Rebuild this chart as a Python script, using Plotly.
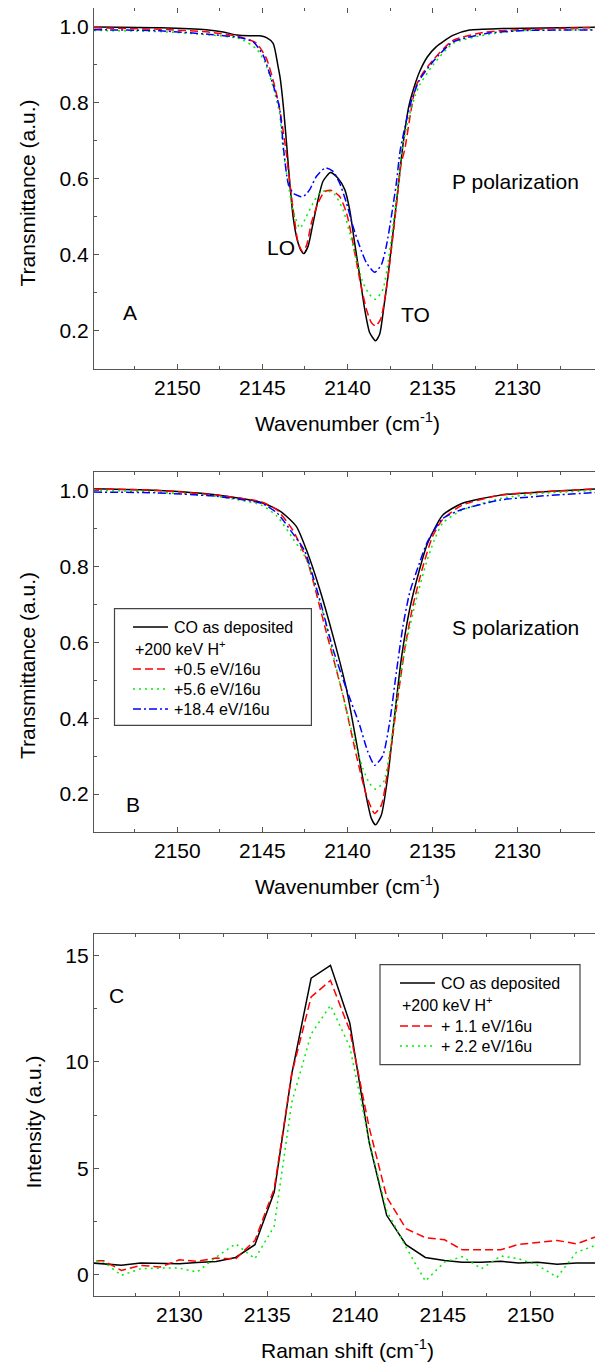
import plotly.graph_objects as go

# ---------------- Panel A (P polarization) ----------------
a_black_x = [2154.9, 2151.0, 2148.3, 2147.3, 2146.5, 2145.8, 2145.15, 2144.76, 2144.37, 2144.08, 2143.95, 2143.75,
             2143.55, 2143.39, 2143.2, 2142.96, 2142.72, 2142.57, 2142.32, 2142.02, 2141.73, 2141.44, 2141.0,
             2140.56, 2140.16, 2139.87, 2139.58, 2139.28, 2138.99, 2138.7, 2138.35, 2138.11, 2137.88, 2137.62,
             2137.33, 2137.04, 2136.78, 2136.4, 2136.05, 2135.77, 2135.3, 2134.79, 2133.81, 2132.83, 2130.88, 2125.1]
a_black_y = [0.998, 0.996, 0.991, 0.985, 0.977, 0.975, 0.975, 0.970, 0.955, 0.894, 0.862, 0.78,
             0.675, 0.588, 0.501, 0.44, 0.41, 0.403, 0.422, 0.484, 0.545, 0.593, 0.616,
             0.601, 0.571, 0.518, 0.431, 0.344, 0.257, 0.196, 0.174, 0.191, 0.257, 0.344,
             0.457, 0.571, 0.675, 0.789, 0.845, 0.880, 0.920, 0.946, 0.976, 0.990, 0.994, 0.998]

a_red_x = [2154.9, 2151.0, 2148.0, 2146.3, 2145.34, 2144.76, 2144.27, 2143.98, 2143.62, 2143.39, 2143.14, 2142.9,
           2142.64, 2142.41, 2142.12, 2141.73, 2141.34, 2140.94, 2140.46, 2140.06, 2139.68, 2139.28, 2138.89,
           2138.6, 2138.35, 2138.05, 2137.72, 2137.42, 2137.13, 2136.84, 2136.64, 2136.3, 2136.0, 2135.6,
           2134.98, 2133.8, 2131.85, 2128.0, 2125.1]
a_red_y = [0.996, 0.992, 0.984, 0.972, 0.955, 0.915, 0.841, 0.78, 0.675, 0.588, 0.501, 0.431,
           0.409, 0.424, 0.484, 0.536, 0.566, 0.569, 0.553, 0.51, 0.431, 0.335, 0.257,
           0.222, 0.213, 0.231, 0.309, 0.414, 0.527, 0.641, 0.675, 0.77, 0.84, 0.875,
           0.911, 0.963, 0.985, 0.994, 0.997]

a_green_x = [2154.9, 2151.0, 2148.0, 2146.3, 2145.34, 2144.85, 2144.37, 2144.0, 2143.78, 2143.49, 2143.2, 2142.8,
             2142.41, 2142.02, 2141.63, 2141.24, 2140.75, 2140.26, 2139.87, 2139.48, 2139.09, 2138.7, 2138.35,
             2137.92, 2137.62, 2137.33, 2137.04, 2136.8, 2136.4, 2136.0, 2135.77, 2134.98, 2133.8, 2131.85,
             2130.0, 2125.1]
a_green_y = [0.989, 0.986, 0.977, 0.967, 0.94, 0.905, 0.841, 0.772, 0.675, 0.588, 0.518, 0.47,
             0.501, 0.536, 0.562, 0.569, 0.558, 0.518, 0.457, 0.388, 0.327, 0.295, 0.283,
             0.309, 0.379, 0.475, 0.579, 0.675, 0.76, 0.82, 0.845, 0.898, 0.955, 0.978,
             0.988, 0.991]

a_blue_x = [2154.9, 2151.0, 2147.9, 2146.3, 2145.54, 2144.96, 2144.46, 2144.0, 2143.75, 2143.49, 2143.2, 2142.95,
            2142.7, 2142.45, 2142.22, 2141.82, 2141.3, 2140.85, 2140.46, 2140.06, 2139.68, 2139.28, 2138.89,
            2138.4, 2138.01, 2137.72, 2137.42, 2137.13, 2136.9, 2136.5, 2136.2, 2135.77, 2134.98, 2133.8,
            2131.85, 2129.5, 2125.1]
a_blue_y = [0.991, 0.988, 0.978, 0.970, 0.959, 0.924, 0.859, 0.787, 0.675, 0.588, 0.562, 0.556,
            0.552, 0.558, 0.571, 0.606, 0.628, 0.619, 0.588, 0.536, 0.475, 0.422, 0.379,
            0.354, 0.374, 0.422, 0.501, 0.588, 0.675, 0.76, 0.81, 0.859, 0.907, 0.959,
            0.981, 0.989, 0.990]

# ---------------- Panel B (S polarization) ----------------
b_black_x = [2154.9, 2151.36, 2147.74, 2145.03, 2143.9, 2143.0, 2142.41, 2141.63, 2140.85, 2140.06, 2139.48,
             2138.99, 2138.6, 2138.35, 2138.01, 2137.62, 2137.23, 2136.84, 2136.35, 2135.77, 2135.31, 2134.41,
             2133.28, 2131.02, 2128.76, 2125.1]
b_black_y = [1.006, 1.002, 0.990, 0.969, 0.945, 0.906, 0.844, 0.740, 0.617, 0.477, 0.337,
             0.215, 0.136, 0.119, 0.145, 0.25, 0.407, 0.556, 0.687, 0.792, 0.86, 0.936,
             0.967, 0.989, 0.997, 1.006]

b_red_x = [2154.9, 2151.36, 2147.74, 2145.03, 2144.12, 2143.22, 2142.7, 2142.32, 2141.24, 2140.26, 2139.48,
           2138.89, 2138.41, 2138.01, 2137.62, 2137.13, 2136.64, 2136.16, 2135.57, 2135.0, 2134.41, 2133.28,
           2131.02, 2128.76, 2125.1]
b_red_y = [1.005, 1.002, 0.989, 0.971, 0.949, 0.897, 0.85, 0.81, 0.626, 0.46, 0.302,
           0.197, 0.149, 0.171, 0.267, 0.425, 0.582, 0.696, 0.8, 0.88, 0.925, 0.962,
           0.989, 0.997, 1.006]

b_green_x = [2154.9, 2151.36, 2147.74, 2145.03, 2144.12, 2143.22, 2142.54, 2142.41, 2141.83, 2141.24, 2140.46,
             2139.68, 2139.09, 2138.7, 2138.35, 2137.88, 2137.52, 2137.04, 2136.55, 2135.96, 2135.37, 2134.9,
             2134.41, 2133.28, 2131.02, 2128.76, 2125.1]
b_green_y = [1.002, 0.997, 0.986, 0.962, 0.932, 0.875, 0.83, 0.818, 0.74, 0.643, 0.495,
             0.355, 0.267, 0.228, 0.213, 0.232, 0.311, 0.469, 0.6, 0.713, 0.81, 0.87,
             0.915, 0.949, 0.980, 0.993, 1.002]

b_blue_x = [2154.9, 2151.36, 2147.74, 2145.03, 2144.12, 2143.22, 2142.54, 2141.63, 2140.85, 2140.06, 2139.28,
            2138.8, 2138.4, 2137.92, 2137.52, 2137.13, 2136.74, 2136.35, 2135.77, 2135.31, 2134.41, 2133.28,
            2131.02, 2128.76, 2125.1]
b_blue_y = [0.997, 0.995, 0.986, 0.967, 0.941, 0.888, 0.844, 0.713, 0.582, 0.477, 0.381,
            0.311, 0.276, 0.302, 0.39, 0.521, 0.643, 0.731, 0.81, 0.865, 0.927, 0.951,
            0.976, 0.986, 0.997]

# ---------------- Panel C (Raman) ----------------
c_x = [2124.6, 2125.7, 2126.7, 2127.8, 2128.9, 2130.0, 2131.0, 2132.1, 2133.2, 2134.3, 2135.4, 2136.4,
       2137.5, 2138.6, 2139.7, 2140.8, 2141.8, 2142.9, 2144.0, 2145.1, 2146.1, 2147.2, 2148.3, 2149.3,
       2150.4, 2151.5, 2152.6, 2153.6, 2154.7]
c_black = [0.58, 0.52, 0.44, 0.55, 0.54, 0.52, 0.57, 0.62, 0.81, 1.41, 3.88, 9.44,
           13.93, 14.53, 11.82, 6.23, 2.79, 1.41, 0.81, 0.67, 0.59, 0.59, 0.63, 0.55,
           0.59, 0.49, 0.55, 0.57, 0.56]
c_red = [0.65, 0.65, 0.2, 0.44, 0.36, 0.7, 0.63, 0.78, 0.74, 1.61, 4.04, 9.45,
         13.04, 13.82, 11.47, 6.93, 3.65, 2.16, 1.74, 1.64, 1.17, 1.17, 1.17, 1.42,
         1.5, 1.61, 1.45, 1.75, 1.9]
c_green = [0.7, 0.6, -0.03, 0.28, 0.31, 0.31, 0.12, 0.83, 1.45, 0.75, 2.28, 8.1,
           11.3, 12.65, 10.7, 6.3, 3.0, 1.3, -0.3, 0.6, 0.85, 0.28, 0.88, 0.75,
           0.44, -0.12, 1.05, 1.35, 1.5]

names_b = ["CO as deposited", "+0.5 eV/16u", "+5.6 eV/16u", "+18.4 eV/16u"]
names_c = ["CO as deposited", "+ 1.1 eV/16u", "+ 2.2 eV/16u"]
group_title = "+200 keV H<sup>+</sup>"

BLACK, RED, GREEN, BLUE = "#000000", "#ff0000", "#00ee00", "#0000ff"
W = 1.5
DASH = "8px,4px"
DOT = "2px,4px"
DASHDOT = "8px,3px,2px,3px"
FONT = "Arial, 'Liberation Sans', sans-serif"
LEG_SIZE = 16

# page geometry (the page body has an 8px margin)
FIG_W, FIG_H = 595, 1357
PLOT_TOP, PLOT_BOT = 8, 1296          # page pixels
PLOT_L, PLOT_R = 94, 601


def px_y(py):
    return (PLOT_BOT - py) / (PLOT_BOT - PLOT_TOP)


def px_x(px):
    return (px - PLOT_L) / (PLOT_R - PLOT_L)


fig = go.Figure()


def spline(x, y, color, dash, xa, ya, name=None):
    fig.add_trace(go.Scatter(x=x, y=y, mode="lines", xaxis=xa, yaxis=ya, name=name, showlegend=False,
                             line=dict(color=color, width=W, dash=dash, shape="spline", smoothing=0.6)))


# Panel A
spline(a_black_x, a_black_y, BLACK, "solid", "x", "y", names_b[0])
spline(a_red_x, a_red_y, RED, DASH, "x", "y", names_b[1])
spline(a_green_x, a_green_y, GREEN, DOT, "x", "y", names_b[2])
spline(a_blue_x, a_blue_y, BLUE, DASHDOT, "x", "y", names_b[3])

# Panel B
spline(b_black_x, b_black_y, BLACK, "solid", "x2", "y2", names_b[0])
spline(b_red_x, b_red_y, RED, DASH, "x2", "y2", names_b[1])
spline(b_green_x, b_green_y, GREEN, DOT, "x2", "y2", names_b[2])
spline(b_blue_x, b_blue_y, BLUE, DASHDOT, "x2", "y2", names_b[3])

# Panel C (straight segments)
for yv, col, dsh, nm in [(c_black, BLACK, "solid", names_c[0]), (c_red, RED, DASH, names_c[1]),
                         (c_green, GREEN, DOT, names_c[2])]:
    fig.add_trace(go.Scatter(x=c_x, y=yv, mode="lines", xaxis="x3", yaxis="y3", name=nm, showlegend=False,
                             line=dict(color=col, width=W, dash=dsh)))

AX = "#555555"


def minor(dt):
    return dict(dtick=dt, ticks="inside", ticklen=3, tickwidth=1.3, tickcolor=AX, showgrid=False)


def axstyle(**extra):
    d = dict(showline=True, linecolor=AX, linewidth=1.3, mirror="allticks", ticks="inside",
             ticklen=5, tickwidth=1.3, tickcolor=AX, showgrid=False, zeroline=False, automargin=False,
             tickfont=dict(size=21, color="black", family=FONT))
    d.update(extra)
    return d


dA = [px_y(369), 1.0]
dB = [px_y(832), px_y(472)]
dC = [0.0, px_y(934)]

fig.update_layout(
    width=FIG_W, height=FIG_H,
    margin=dict(l=PLOT_L - 8, r=FIG_W - (PLOT_R - 8), t=PLOT_TOP - 8, b=FIG_H - (PLOT_BOT - 8), autoexpand=False),
    paper_bgcolor="white", plot_bgcolor="white",
    font=dict(family=FONT, color="black"),
    showlegend=False,
    xaxis=axstyle(domain=[0, 1], anchor="y", range=[2154.9, 2125.1], dtick=5, tick0=2130, minor=minor(2.5)),
    yaxis=axstyle(domain=dA, anchor="x", range=[0.1, 1.048], dtick=0.2, tick0=0, tickformat=".1f",
                  minor=minor(0.1)),
    xaxis2=axstyle(domain=[0, 1], anchor="y2", range=[2154.9, 2125.1], dtick=5, tick0=2130, minor=minor(2.5)),
    yaxis2=axstyle(domain=dB, anchor="x2", range=[0.1, 1.05], dtick=0.2, tick0=0, tickformat=".1f",
                   minor=minor(0.1)),
    xaxis3=axstyle(domain=[0, 1], anchor="y3", range=[2125.14, 2154.0], dtick=5, tick0=2130, minor=minor(2.5)),
    yaxis3=axstyle(domain=dC, anchor="x3", range=[-1.0, 16.0], dtick=5, tick0=0, minor=minor(2.5)),
)

shapes = [
    dict(type="rect", xref="paper", yref="paper", x0=px_x(114.5), x1=px_x(311.4), y0=px_y(725.3), y1=px_y(608.7),
         line=dict(color="#444444", width=1.2), fillcolor="white", layer="above"),
    dict(type="rect", xref="paper", yref="paper", x0=px_x(380), x1=px_x(580), y0=px_y(1064.7), y1=px_y(964.7),
         line=dict(color="#444444", width=1.2), fillcolor="white", layer="above"),
]

TF = dict(size=21, family=FONT, color="black")
LF = dict(size=LEG_SIZE, family=FONT, color="black")
annotations = [
    # in-plot labels
    dict(x=2130.1, y=0.592, xref="x", yref="y", text="P polarization", font=TF),
    dict(x=2143.9, y=0.418, xref="x", yref="y", text="LO", font=TF),
    dict(x=2136.0, y=0.243, xref="x", yref="y", text="TO", font=TF),
    dict(x=2152.8, y=0.249, xref="x", yref="y", text="A", font=TF),
    dict(x=2130.1, y=0.639, xref="x2", yref="y2", text="S polarization", font=TF),
    dict(x=2152.6, y=0.172, xref="x2", yref="y2", text="B", font=TF),
    dict(x=2126.43, y=13.12, xref="x3", yref="y3", text="C", font=TF),
    # axis titles
    dict(x=0.5, y=px_y(422), xref="paper", yref="paper", text="Wavenumber (cm<sup>-1</sup>)", font=TF),
    dict(x=0.5, y=px_y(885), xref="paper", yref="paper", text="Wavenumber (cm<sup>-1</sup>)", font=TF),
    dict(x=0.5, y=px_y(1349), xref="paper", yref="paper", text="Raman shift (cm<sup>-1</sup>)", font=TF),
    dict(x=px_x(27), y=px_y(193.5), xref="paper", yref="paper", text="Transmittance (a.u.)", font=TF, textangle=-90),
    dict(x=px_x(27), y=px_y(666), xref="paper", yref="paper", text="Transmittance (a.u.)", font=TF, textangle=-90),
    dict(x=px_x(33), y=px_y(1122.5), xref="paper", yref="paper", text="Intensity (a.u.)", font=TF, textangle=-90),
]


def legend(rows, line_x0, line_x1, text_x, entries):
    # entries: list of (label, color, dash or None)
    for (label, col, dsh), ry in zip(entries, rows):
        if dsh is None:
            annotations.append(dict(x=px_x(line_x0), y=px_y(ry), xref="paper", yref="paper", text=label,
                                    font=LF, xanchor="left"))
        else:
            shapes.append(dict(type="line", xref="paper", yref="paper", x0=px_x(line_x0), x1=px_x(line_x1),
                               y0=px_y(ry), y1=px_y(ry), line=dict(color=col, width=W, dash=dsh), layer="above"))
            annotations.append(dict(x=px_x(text_x), y=px_y(ry), xref="paper", yref="paper", text=label,
                                    font=LF, xanchor="left"))


legend([627, 648, 669, 689, 709], 133, 168, 172,
       [(names_b[0], BLACK, "solid"), (group_title, None, None), (names_b[1], RED, DASH),
        (names_b[2], GREEN, DOT), (names_b[3], BLUE, DASHDOT)])
legend([983, 1004, 1026, 1046], 400, 435, 439,
       [(names_c[0], BLACK, "solid"), (group_title, None, None), (names_c[1], RED, DASH),
        (names_c[2], GREEN, DOT)])

for a in annotations:
    a.setdefault("xanchor", "center")
    a.update(showarrow=False, yanchor="middle")

fig.update_layout(annotations=annotations, shapes=shapes)

fig.write_html("out.html")
